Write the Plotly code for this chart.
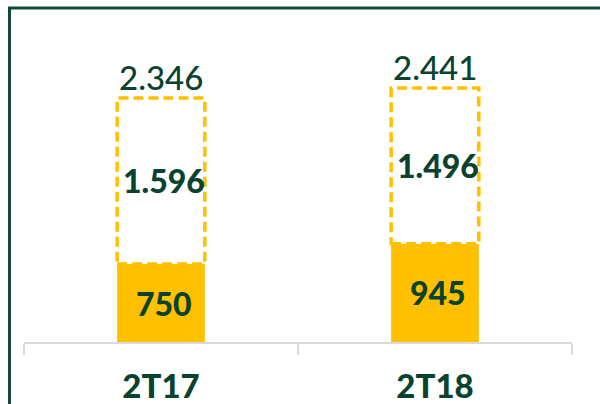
import plotly.graph_objects as go

# Quarterly figures (thousands)
quarters = ["2T17", "2T18"]
base_values = [750, 945]          # solid segment
extra_values = [1596, 1496]       # dashed segment
total_labels = ["2.346", "2.441"]
base_labels = ["750", "945"]
extra_labels = ["1.596", "1.496"]

GOLD = "#FFC000"
GREEN = "#0A4230"
FRAME = "#12483A"
AXIS = "#D9D9D9"
BAR_W = 0.32

totals = [b + e for b, e in zip(base_values, extra_values)]

fig = go.Figure()

fig.add_trace(go.Bar(
    x=quarters, y=base_values, width=BAR_W,
    marker=dict(color=GOLD, line=dict(width=0)),
    hoverinfo="skip",
))
fig.add_trace(go.Bar(
    x=quarters, y=extra_values, base=base_values, width=BAR_W,
    marker=dict(color="white", line=dict(width=0)),
    hoverinfo="skip",
))

# dashed outline of the upper segment
for i, (b, t) in enumerate(zip(base_values, totals)):
    fig.add_shape(
        type="rect", xref="x", yref="y",
        x0=i - BAR_W / 2, x1=i + BAR_W / 2, y0=b, y1=t,
        line=dict(color=GOLD, width=3.5, dash="10px,5px"),
        fillcolor="rgba(0,0,0,0)", layer="above",
    )

# value labels
for i in range(len(quarters)):
    fig.add_annotation(
        x=quarters[i], y=base_values[i] / 2, text=base_labels[i],
        showarrow=False, xshift=3,
        font=dict(family="Lato", size=32, color=GREEN, weight=900),
    )
    fig.add_annotation(
        x=quarters[i], y=base_values[i] + extra_values[i] / 2, text=extra_labels[i],
        showarrow=False, xshift=3,
        font=dict(family="Lato", size=32, color=GREEN, weight=900),
    )
    fig.add_annotation(
        x=quarters[i], y=totals[i], text=total_labels[i],
        showarrow=False, yanchor="bottom", yshift=-1,
        font=dict(family="Lato", size=33, color=GREEN, weight=500),
    )

# frame lines on the left and top
fig.add_shape(type="line", xref="paper", yref="paper", xsizemode="pixel", ysizemode="pixel",
              xanchor=0, yanchor=1, x0=-14.5, x1=-14.5, y0=2, y1=-400,
              line=dict(color=FRAME, width=3), layer="above")
fig.add_shape(type="line", xref="paper", yref="paper", xsizemode="pixel", ysizemode="pixel",
              xanchor=0, yanchor=1, x0=-16, x1=600, y0=2, y1=2,
              line=dict(color=FRAME, width=3), layer="above")

fig.update_layout(
    width=600, height=404,
    margin=dict(l=24, r=28, t=10, b=62, autoexpand=False),
    paper_bgcolor="white", plot_bgcolor="white",
    barmode="overlay", showlegend=False,
    xaxis=dict(
        type="category", showline=True, linecolor=AXIS, linewidth=2,
        ticks="outside", tickson="boundaries", ticklen=11, tickwidth=2, tickcolor=AXIS,
        tickfont=dict(family="Lato", size=33, color=GREEN, weight=900),
        ticklabelstandoff=14, showgrid=False, zeroline=False, automargin=False,
    ),
    yaxis=dict(range=[0, 3192], visible=False, showgrid=False, zeroline=False),
)

fig.write_html("out.html")
